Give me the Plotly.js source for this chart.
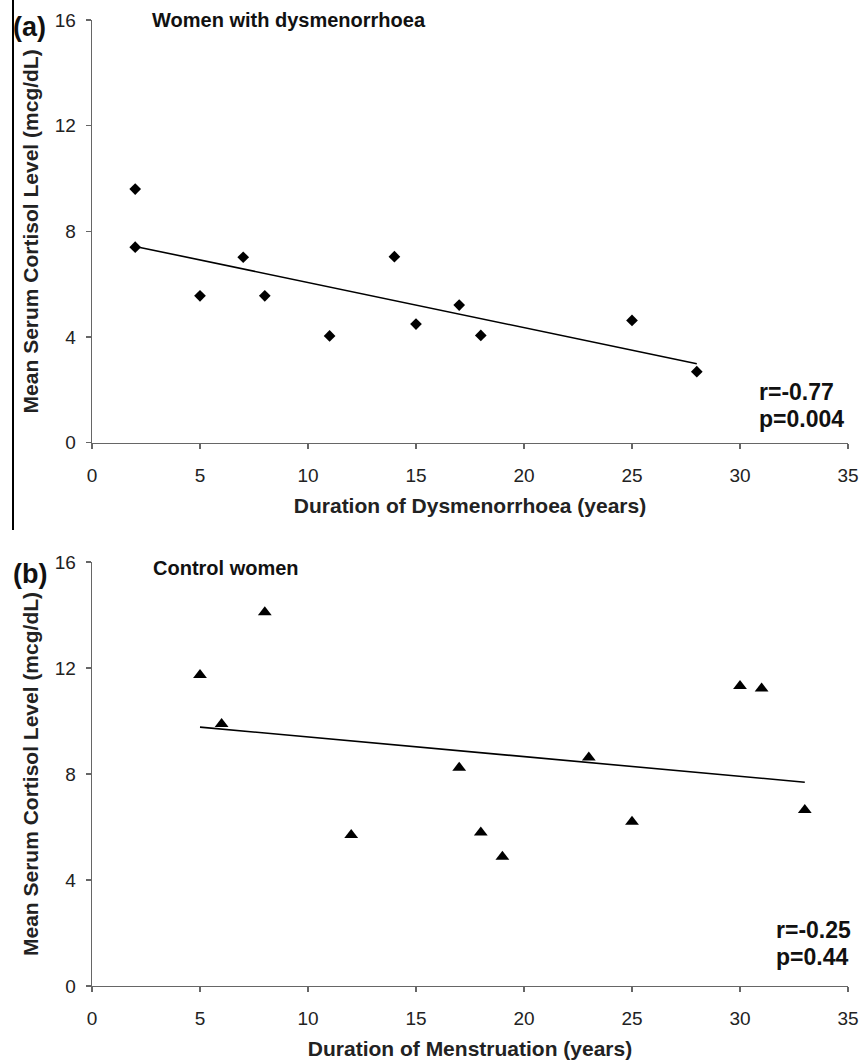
<!DOCTYPE html>
<html>
<head>
<meta charset="utf-8">
<script src="https://cdn.plot.ly/plotly-3.0.1.min.js"></script>
<style>html,body{margin:0;padding:0;background:#fff;}#chart{width:862px;height:1062px;}</style>
</head>
<body>
<div id="chart"></div>
<script>
// Panel (a): women with dysmenorrhoea
const durationA = [2, 2, 5, 7, 8, 11, 14, 15, 17, 18, 25, 28];
const cortisolA = [9.6, 7.4, 5.56, 7.02, 5.56, 4.04, 7.04, 4.49, 5.21, 4.06, 4.63, 2.69];
const trendXA = [2, 28];
const trendYA = [7.43, 2.99];
// Panel (b): control women
const durationB = [5, 6, 8, 12, 17, 18, 19, 23, 25, 30, 31, 33];
const cortisolB = [11.74, 9.89, 14.1, 5.70, 8.24, 5.79, 4.88, 8.62, 6.2, 11.32, 11.23, 6.64];
const trendXB = [5, 33];
const trendYB = [9.77, 7.69];
const xTicks = [0, 5, 10, 15, 20, 25, 30, 35];
const yTicks = [0, 4, 8, 12, 16];

const W = 862, H = 1062;
const M = {l: 92, r: 14, t: 20, b: 76};
const PW = W - M.l - M.r, PH = H - M.t - M.b;
const px = x => (x - M.l) / PW;
const py = y => (H - M.b - y) / PH;

const FONT = 'Liberation Sans, Arial, sans-serif';
const axisBase = {
  showline: true, linecolor: '#666', linewidth: 1.3, mirror: false,
  ticks: 'outside', ticklen: 5, tickcolor: '#666', tickwidth: 1.3,
  showgrid: false, zeroline: false, fixedrange: true,
  tickfont: {family: FONT, size: 19, color: '#222'}
};

const traces = [
  {x: durationA, y: cortisolA, xaxis: 'x', yaxis: 'y', type: 'scatter', mode: 'markers',
   marker: {symbol: 'diamond', size: 9, color: '#000'}, showlegend: false, hoverinfo: 'skip'},
  {x: trendXA, y: trendYA, xaxis: 'x', yaxis: 'y', type: 'scatter', mode: 'lines',
   line: {color: '#000', width: 1.6}, showlegend: false, hoverinfo: 'skip'},
  {x: durationB, y: cortisolB, xaxis: 'x2', yaxis: 'y2', type: 'scatter', mode: 'markers',
   marker: {symbol: 'triangle-up', size: 12, color: '#000'}, showlegend: false, hoverinfo: 'skip'},
  {x: trendXB, y: trendYB, xaxis: 'x2', yaxis: 'y2', type: 'scatter', mode: 'lines',
   line: {color: '#000', width: 1.6}, showlegend: false, hoverinfo: 'skip'}
];

function xax(anchor, title) {
  return Object.assign({}, axisBase, {
    domain: [0, 1], anchor: anchor, range: [0, 35], tickmode: 'array', tickvals: xTicks,
    ticklabelstandoff: 10,
    title: {text: '<b>' + title + '</b>', font: {family: FONT, size: 21, color: '#222'}, standoff: 13}
  });
}
function yax(anchor, dom) {
  return Object.assign({}, axisBase, {
    domain: dom, anchor: anchor, range: [0, 16], tickmode: 'array', tickvals: yTicks,
    ticklabelstandoff: 6,
    title: {text: '<b>Mean Serum Cortisol Level (mcg/dL)</b>', font: {family: FONT, size: 21, color: '#222'}, standoff: 10}
  });
}

const topDom = [py(442.7), 1];
const botDom = [0, py(562)];

const ann = (text, x, y, size, anchor) => ({
  text: text, xref: 'paper', yref: 'paper', x: px(x), y: py(y), xanchor: anchor || 'left', yanchor: 'middle',
  showarrow: false, font: {family: FONT, size: size, color: '#111'}
});

const layout = {
  width: W, height: H, margin: M, paper_bgcolor: '#fff', plot_bgcolor: '#fff',
  xaxis: xax('y', 'Duration of Dysmenorrhoea (years)'),
  yaxis: yax('x', topDom),
  xaxis2: xax('y2', 'Duration of Menstruation (years)'),
  yaxis2: yax('x2', botDom),
  annotations: [
    ann('<b>(a)</b>', 11, 27, 27),
    ann('<b>Women with dysmenorrhoea</b>', 150, 20, 20),
    ann('<b>r=-0.77</b>', 757, 392, 23),
    ann('<b>p=0.004</b>', 757, 419, 23),
    ann('<b>(b)</b>', 11, 574, 27),
    ann('<b>Control women</b>', 151, 568, 20),
    ann('<b>r=-0.25</b>', 774, 930, 23),
    ann('<b>p=0.44</b>', 774, 957, 23)
  ],
  shapes: [
    {type: 'line', xref: 'paper', yref: 'paper', x0: px(13), x1: px(13), y0: py(0), y1: py(530),
     line: {color: '#000', width: 2}}
  ]
};

Plotly.newPlot('chart', traces, layout, {staticPlot: true, displayModeBar: false});
</script>
</body>
</html>
